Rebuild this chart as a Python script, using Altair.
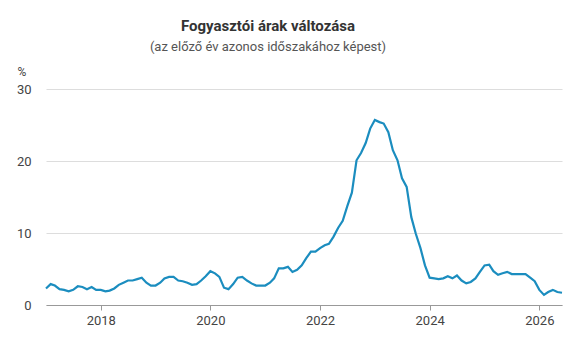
import altair as alt
import pandas as pd

years = list(range(2017, 2027))
v2017 = [2.3, 2.9, 2.7, 2.2, 2.1, 1.9, 2.1, 2.6, 2.5, 2.2, 2.5, 2.1]
v2018 = [2.1, 1.9, 2.0, 2.3, 2.8, 3.1, 3.4, 3.4, 3.6, 3.8, 3.1, 2.7]
v2019 = [2.7, 3.1, 3.7, 3.9, 3.9, 3.4, 3.3, 3.1, 2.8, 2.9, 3.4, 4.0]
v2020 = [4.7, 4.4, 3.9, 2.4, 2.2, 2.9, 3.8, 3.9, 3.4, 3.0, 2.7, 2.7]
v2021 = [2.7, 3.1, 3.7, 5.1, 5.1, 5.3, 4.6, 4.9, 5.5, 6.5, 7.4, 7.4]
v2022 = [7.9, 8.3, 8.5, 9.5, 10.7, 11.7, 13.7, 15.6, 20.1, 21.1, 22.5, 24.5]
v2023 = [25.7, 25.4, 25.2, 24.0, 21.5, 20.1, 17.6, 16.4, 12.2, 9.9, 7.9, 5.5]
v2024 = [3.8, 3.7, 3.6, 3.7, 4.0, 3.7, 4.1, 3.4, 3.0, 3.2, 3.7, 4.6]
v2025 = [5.5, 5.6, 4.7, 4.2, 4.4, 4.6, 4.3, 4.3, 4.3, 4.3, 3.8, 3.3]
v2026 = [2.1, 1.4, 1.8, 2.1, 1.8, 1.7]
series = [v2017, v2018, v2019, v2020, v2021, v2022, v2023, v2024, v2025, v2026]

tick_years = ["2018-01-01", "2020-01-01", "2022-01-01", "2024-01-01", "2026-01-01"]
y_ticks = [0, 10, 20, 30]

rows = []
for y, vals in zip(years, series):
    for m, v in enumerate(vals, start=1):
        rows.append({"date": f"{y}-{m:02d}-01", "value": v})
df = pd.DataFrame(rows)

font = "Roboto"

chart = (
    alt.Chart(df)
    .mark_line(color="#1b8dbf", strokeWidth=2.2)
    .encode(
        x=alt.X(
            "date:T",
            scale=alt.Scale(domain=["2017-01-01", "2026-06-01"]),
            axis=alt.Axis(
                title=None,
                values=tick_years,
                format="%Y",
                grid=False,
                domainColor="#999999",
                tickColor="#999999",
                tickSize=5,
                labelFontSize=13,
                labelColor="#444444",
                labelFont=font,
                labelPadding=4,
            ),
        ),
        y=alt.Y(
            "value:Q",
            scale=alt.Scale(domain=[0, 30], nice=False),
            axis=alt.Axis(
                title="%",
                titleAngle=0,
                titleX=-29,
                titleY=-18,
                titleAlign="left",
                titleBaseline="middle",
                titleFont=font,
                titleFontSize=12,
                titleFontWeight="normal",
                titleColor="#444444",
                values=y_ticks,
                domain=False,
                ticks=False,
                labelPadding=15,
                labelFontSize=13,
                labelColor="#444444",
                labelFont=font,
                gridColor="#dddddd",
            ),
        ),
    )
    .properties(
        width=516,
        height=216,
        autosize=alt.AutoSizeParams(type="none"),
        padding={"left": 46, "top": 89, "right": 10, "bottom": 33},
        title=alt.TitleParams(
            text="Fogyasztói árak változása",
            subtitle="(az előző év azonos időszakához képest)",
            anchor="middle",
            frame="group",
            dx=-36,
            offset=11,
            font=font,
            fontSize=15,
            fontWeight="bold",
            color="#333333",
            subtitleFont=font,
            subtitleFontSize=13,
            subtitleColor="#555555",
            subtitlePadding=7,
        ),
    )
    .configure_view(stroke=None)
)

chart.save("out.html", embed_options={"renderer": "svg", "actions": False})
